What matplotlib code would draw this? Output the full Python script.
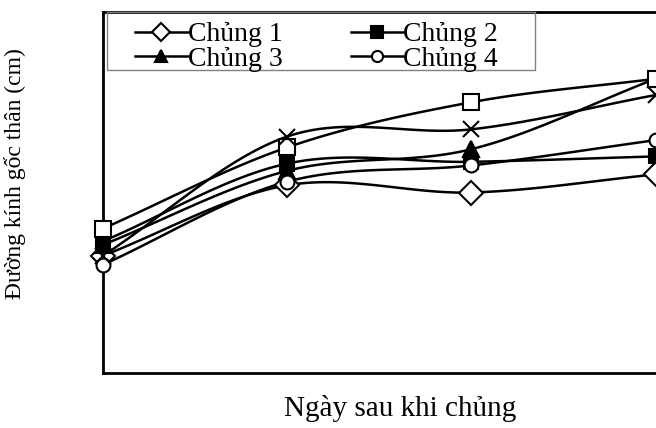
import numpy as np
import matplotlib
matplotlib.use("Agg")
import matplotlib.pyplot as plt
from matplotlib.lines import Line2D
from matplotlib.patches import Rectangle

plt.rcParams['font.family'] = ['Liberation Serif', 'DejaVu Serif']

# Days after inoculation
days = [15, 30, 45, 60]

# Stem base diameter (cm)
chung1 = [0.65, 1.04, 1.00, 1.10]
chung2 = [0.73, 1.16, 1.17, 1.20]
chung3 = [0.71, 1.12, 1.24, 1.63]
chung4 = [0.60, 1.06, 1.15, 1.29]
chung5 = [0.80, 1.25, 1.50, 1.63]
chung6 = [0.65, 1.31, 1.35, 1.54]

labels = ["Chủng 1", "Chủng 2", "Chủng 3", "Chủng 4", "Chủng 5", "Chủng 6"]
series = [chung1, chung2, chung3, chung4, chung5, chung6]
markers = ['D', 's', '^', 'o', 's', 'x']
faces = ['white', 'black', 'black', 'white', 'white', 'none']
msizes = [12, 10, 11, 10, 11, 12]


def smooth(x, y, n=30):
    # Catmull-Rom curve, like Excel's "smoothed line"
    x = np.asarray(x, float)
    y = np.asarray(y, float)
    px = np.concatenate([[2 * x[0] - x[1]], x, [2 * x[-1] - x[-2]]])
    py = np.concatenate([[2 * y[0] - y[1]], y, [2 * y[-1] - y[-2]]])
    xs, ys = [], []
    t = np.linspace(0, 1, n)
    for i in range(1, len(px) - 2):
        for p, out in ((px, xs), (py, ys)):
            p0, p1, p2, p3 = p[i - 1], p[i], p[i + 1], p[i + 2]
            out.extend(0.5 * ((2 * p1) + (-p0 + p2) * t
                              + (2 * p0 - 5 * p1 + 4 * p2 - p3) * t ** 2
                              + (-p0 + 3 * p1 - 3 * p2 + p3) * t ** 3))
    return xs, ys


fig = plt.figure(figsize=(6.56, 4.28), dpi=100)
ax = fig.add_axes([103 / 656, 1 - 373 / 428, 614 / 656, 361 / 428])

for vals, m, fc, ms in zip(series, markers, faces, msizes):
    sx, sy = smooth(days, vals)
    ax.plot(sx, sy, color='black', lw=1.8, zorder=2)
    ax.plot(days, vals, ls='none', marker=m, ms=ms, mfc=fc, mec='black',
            mew=1.5, zorder=3, clip_on=False)

ax.set_xlim(15, 65)
ax.set_ylim(0, 2.0)
ax.set_xticks([])
ax.set_yticks([])
for s in ax.spines.values():
    s.set_linewidth(2)

# legend: row 1 = Chủng 1, 2 ; row 2 = Chủng 3, 4
order = [0, 2, 1, 3]
leg_ms = [9, 9, 9, 8]
handles = [Line2D([], [], color='black', lw=1.8, marker=markers[i],
                  ms=leg_ms[i], mfc=faces[i], mec='black', mew=1.5)
           for i in order]
leg = fig.legend(handles, [labels[i] for i in order], ncol=2, loc='upper left',
                 bbox_to_anchor=(135 / 656, 1 - 22 / 428), fontsize=20,
                 frameon=False, handlelength=1.9, handletextpad=0.0,
                 columnspacing=2.45, labelspacing=-0.05,
                 borderpad=0, borderaxespad=0)
fig.add_artist(Rectangle((107 / 656, 1 - 70 / 428), 428 / 656, 58 / 428,
                         transform=fig.transFigure, fill=False,
                         edgecolor='#808080', lw=1.0, zorder=5))

fig.text(400 / 656, 1 - 408 / 428, "Ngày sau khi chủng", fontsize=21,
         ha='center', va='center')
fig.text(15 / 656, 1 - 174 / 428, "Đường kính gốc thân (cm)", fontsize=17,
         rotation=90, ha='center', va='center')

fig.savefig("out.png", dpi=100)
